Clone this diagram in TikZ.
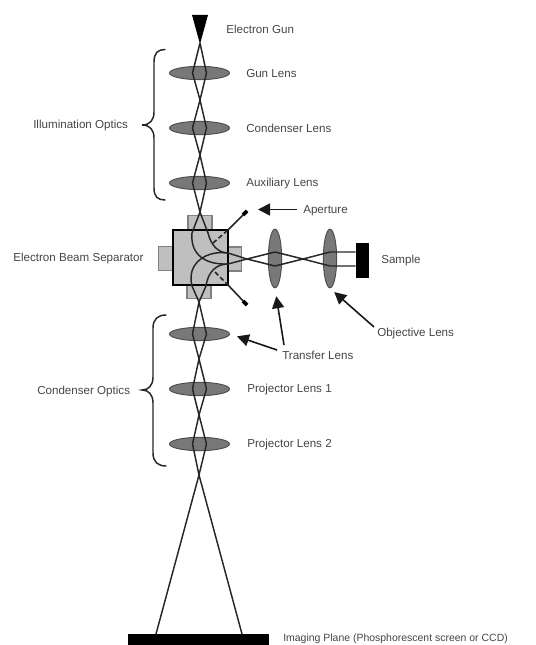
\documentclass[tikz,border=0pt]{standalone}
\usepackage{fontspec}
\setmainfont{Liberation Sans}
\usetikzlibrary{shapes.geometric,arrows.meta}
\definecolor{txt}{gray}{0.27}
\definecolor{lensfill}{gray}{0.47}
\definecolor{boxfill}{gray}{0.75}
\definecolor{boxline}{gray}{0.5}
\tikzset{
 lbl/.style={inner sep=0pt,text=txt,font=\fontsize{8.7pt}{10pt}\selectfont,anchor=west,yshift=-0.5pt},
 hlens/.style={ellipse,draw=black!70,line width=.7pt,fill=lensfill,minimum width=45pt,minimum height=10pt,inner sep=0pt},
 vlens/.style={ellipse,draw=black!70,line width=.7pt,fill=lensfill,minimum width=10pt,minimum height=44pt,inner sep=0pt},
 beam/.style={draw=black!85,line width=1.1pt,line join=round},
 pole/.style={rectangle,draw=boxline,line width=.8pt,fill=boxfill,inner sep=0pt},
 arrowline/.style={draw=black!90,line width=1.2pt,-{Triangle[length=9pt,width=9pt]}},
 bracel/.style={draw=black!85,line width=1.1pt,line cap=round},
 apline/.style={draw=black!85,line width=1.2pt},
 aptip/.style={draw=black,line width=2.8pt},
}
\begin{document}
\begin{tikzpicture}[x=0.75pt,y=-0.75pt]
\useasboundingbox (0,0) rectangle (535,645);
% lenses
\node[hlens] (l1) at (199.5,73) {};
\node[hlens] (l2) at (199.5,128) {};
\node[hlens] (l3) at (199.5,183) {};
\node[hlens] (l4) at (199.5,334) {};
\node[hlens] (l5) at (199.5,389) {};
\node[hlens] (l6) at (199.5,444) {};
\node[vlens] (t1) at (275,258.5) {};
\node[vlens] (t2) at (330,258.5) {};
% separator
\node[pole,minimum width=18pt,minimum height=11pt] (pt) at (200,223) {};
\node[pole,minimum width=18pt,minimum height=11pt] (pb) at (199,291.5) {};
\node[pole,minimum width=10pt,minimum height=17.5pt] (pl) at (165.5,258.5) {};
\node[pole,minimum width=10pt,minimum height=18pt] (pr) at (234.5,259) {};
\node[rectangle,draw=black,line width=1.6pt,fill=boxfill,minimum width=41pt,minimum height=41pt,inner sep=0pt] (sep) at (200.5,257.5) {};
% sample, screen, gun
\node[rectangle,fill=black,minimum width=9.75pt,minimum height=26pt,inner sep=0pt] (sample) at (362.5,260.5) {};
\node[rectangle,fill=black,minimum width=105.5pt,minimum height=9pt,inner sep=0pt] (screen) at (198.8,640) {};
\fill[black] (192,15) -- (208,15) -- (200,44) -- cycle;
\coordinate (gun) at (200,43);
% crossovers
\coordinate (c1) at (200,100);
\coordinate (c2) at (200,155);
\coordinate (c3) at (200,212);
\coordinate (c4) at (199,302);
\coordinate (c5) at (199,359);
\coordinate (c6) at (199,415);
\coordinate (c7) at (199,475);
\coordinate (r1) at (247,259);
\coordinate (r2) at (303,259);
% beams, vertical
\foreach \s in {-5.25pt,5.25pt}{
 \draw[beam] (gun) -- ([xshift=\s]l1.center) -- (c1) -- ([xshift=\s]l2.center) -- (c2) -- ([xshift=\s]l3.center) -- (c3);
 \draw[beam] (c4) -- ([xshift=\s]l4.center) -- (c5) -- ([xshift=\s]l5.center) -- (c6) -- ([xshift=\s]l6.center) -- (c7);
}
\coordinate (au) at (228,253);
\coordinate (al) at (228,264);
\draw[beam] (c3) -- (192,233) .. controls (190,255) and (206,265) .. (al);
\draw[beam] (c3) -- (208,233) .. controls (211,245) and (218,253) .. (au);
\draw[beam] (c4) -- (192,286) .. controls (186,262) and (208,250) .. (au);
\draw[beam] (c4) -- (206,286) .. controls (208,272) and (216,264) .. (al);
% beams, horizontal
\draw[beam] (au) -- (r1) -- (275,266) -- (r2) -- (330,252) -- (sample.west |- 330,252);
\draw[beam] (al) -- (r1) -- (275,252) -- (r2) -- (330,266) -- (sample.west |- 330,266);
% final beams
\draw[beam] (c7) -- (156,634);
\draw[beam] (c7) -- (242,634);
% apertures
\coordinate (a1o) at (213,243);
\coordinate (a1c) at (228,230);
\coordinate (a1t) at (247,211);
\coordinate (a2o) at (215,272);
\coordinate (a2c) at (228,285);
\coordinate (a2t) at (247,305);
\draw[apline,dash pattern=on 3.5pt off 2pt] (a1o) -- (a1c);
\draw[apline] (a1c) -- (a1t);
\draw[aptip] (243,215) -- (a1t);
\draw[apline,dash pattern=on 3.5pt off 2pt] (a2o) -- (a2c);
\draw[apline] (a2c) -- (a2t);
\draw[aptip] (243,301) -- (a2t);
% braces
\coordinate (b1) at (142,125);
\coordinate (b2) at (142,390);
\draw[bracel] (165,49.5) .. controls (158,49.5) and (154,53) .. (154,62) -- (154,112) .. controls (154,120) and (150,125) .. (b1) .. controls (150,125) and (154,130) .. (154,138) -- (154,188) .. controls (154,197) and (158,200) .. (165,200);
\draw[bracel] (166,315) .. controls (158,315) and (153,319) .. (153,328) -- (153,377) .. controls (153,385) and (149,390) .. (b2) .. controls (149,390) and (153,395) .. (153,403) -- (153,453) .. controls (153,462) and (158,466) .. (166,466);
% labels
\node[lbl] (tgun) at (226,29) {Electron Gun};
\node[lbl] (tl1) at (246,73) {Gun Lens};
\node[lbl] (tl2) at (246,128) {Condenser Lens};
\node[lbl] (tl3) at (246,183) {Auxiliary Lens};
\node[lbl] (tap) at (303,210) {Aperture};
\node[lbl] (tsep) at (13,258) {Electron Beam Separator};
\node[lbl] (till) at (33,125) {Illumination Optics};
\node[lbl] (tcon) at (37,391) {Condenser Optics};
\node[lbl] (tsam) at (381,260) {Sample};
\node[lbl] (tobj) at (377,333) {Objective Lens};
\node[lbl] (ttr) at (282,355) {Transfer Lens};
\node[lbl] (tp1) at (247,389) {Projector Lens 1};
\node[lbl] (tp2) at (247,444) {Projector Lens 2};
\node[lbl,font=\fontsize{7.85pt}{10pt}\selectfont] (tim) at (283,638) {Imaging Plane (Phosphorescent screen or CCD)};
% arrows
\coordinate (aptarget) at (258,209.5);
\coordinate (s1) at (297,209.5);
\coordinate (s2) at (284,345);
\coordinate (s3) at (277,350);
\coordinate (s4) at (374,327);
\draw[arrowline] (s1) -- (aptarget);
\draw[arrowline,shorten >=6pt] (s2) -- (t1.south);
\draw[arrowline,shorten >=5.5pt] (s3) -- (l4.east);
\draw[arrowline,shorten >=4.2pt] (s4) -- (t2.south);
\end{tikzpicture}
\end{document}
